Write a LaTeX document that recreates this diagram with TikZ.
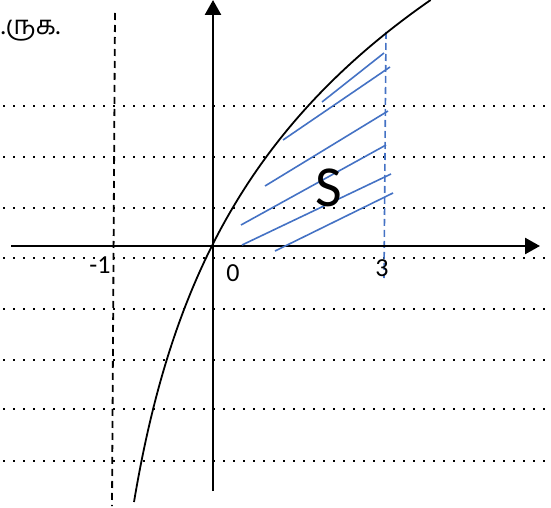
\documentclass[tikz,border=0pt]{standalone}
\usepackage{fontspec}
\setmainfont{Carlito}
\newfontfamily\tamilfont[Script=Tamil]{Hind Madurai}
\usetikzlibrary{arrows.meta}

\definecolor{hatchblue}{RGB}{68,114,196}

\begin{document}
\begin{tikzpicture}[
  x=1pt, y=-1pt,
  axis/.style={line width=2.6pt, -{Triangle[length=15pt, width=16pt]}},
  grid/.style={line width=2.2pt, dash pattern=on 2.2pt off 7.8pt},
  asym/.style={line width=1.8pt, dash pattern=on 7pt off 5pt},
  bound/.style={hatchblue, line width=1.6pt, dash pattern=on 7pt off 4pt},
  hatch/.style={hatchblue, line width=1.6pt},
  curve/.style={line width=1.8pt},
  lbl/.style={font=\fontsize{26}{28}\selectfont, inner sep=0pt},
]
\useasboundingbox (0,0) rectangle (551,508);

% Dotted ruled lines
\foreach \y in {106,157,208,258,309,360,409,461}
  \draw[grid] (3,\y) -- (551,\y);

% Asymptote x = -1 and bound x = 3
\coordinate (asymtop) at (115,13);
\coordinate (asymbot) at (112,506);
\draw[asym] (asymtop) -- (asymbot);
\coordinate (boundtop) at (386,32);
\coordinate (boundbot) at (384,278);
\draw[bound] (boundtop) -- (boundbot);

% Axes
\coordinate (xstart) at (11,246);
\coordinate (xend) at (540,246);
\coordinate (ystart) at (213,491);
\coordinate (yend) at (213,0);
\draw[axis] (xstart) -- (xend);
\draw[axis] (ystart) -- (yend);

% Curve
\draw[curve] plot[domain=0:502, samples=120, variable=\t]
  ({95+39*exp((502-\t)*0.004283)}, \t);

% Hatching of S
\draw[hatch] (322,102) -- (384,53);
\draw[hatch] (283,140) -- (390,67);
\draw[hatch] (265,186) -- (388,111);
\draw[hatch] (241,225) -- (386,145);
\draw[hatch] (242,245) -- (391,174);
\draw[hatch] (275,251) -- (393,193);

% Labels
\node[lbl] (zero) at (233,273) {0};
\node[lbl] (minusone) at (100,265) {-1};
\node[lbl] (three) at (382,268) {3};
\node[font=\fontsize{58}{60}\selectfont, inner sep=0pt] (region) at (329,188) {S};
\node[font=\tamilfont\fontsize{26}{28}\selectfont, inner sep=0pt, anchor=west] (word) at (1,31) {.ருக.};

\end{tikzpicture}
\end{document}
